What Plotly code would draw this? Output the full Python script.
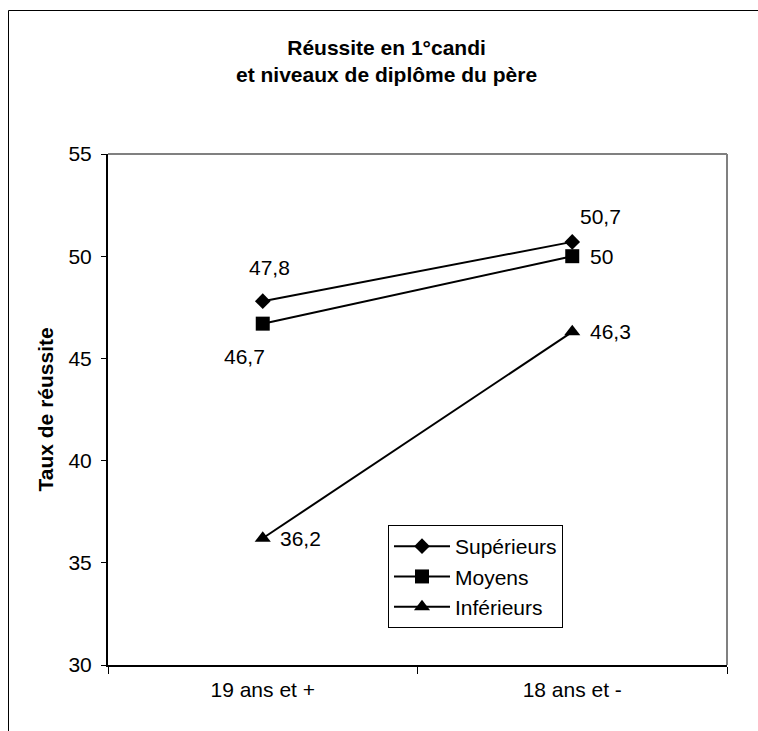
import plotly.graph_objects as go

# Age groups on the x axis
categories = ["19 ans et +", "18 ans et -"]

# Success rate by father's diploma level
superieurs = [47.8, 50.7]
moyens = [46.7, 50.0]
inferieurs = [36.2, 46.3]

series_names = ["Supérieurs", "Moyens", "Inférieurs"]
y_ticks = [30, 35, 40, 45, 50, 55]

FONT = "Liberation Sans, Arial, sans-serif"
W, H = 758, 731
L, R, T, B = 108, 31, 154, 66
PW, PH = W - L - R, H - T - B


def px_x(p):
    return (p - L) / PW


def px_y(p):
    return (T + PH - p) / PH


def fmt(v):
    s = f"{v:.1f}".replace(".", ",")
    return s[:-2] if s.endswith(",0") else s


fig = go.Figure()
symbols = ["diamond", "square", "triangle-up"]
sizes = [12, 14, 14]
for name, vals, sym, sz in zip(series_names, [superieurs, moyens, inferieurs], symbols, sizes):
    fig.add_trace(go.Scatter(
        x=categories, y=vals, name=name, mode="lines+markers",
        line=dict(color="black", width=2),
        marker=dict(symbol=sym, size=sz, color="black", line=dict(width=0)),
    ))

# Value labels with per-point offsets (pixels)
offsets = {
    "Supérieurs": [(7, -34), (28, -25)],
    "Moyens": [(-18, 33), (29, 0)],
    "Inférieurs": [(38, 0), (38, 0)],
}
annotations = []
for name, vals in zip(series_names, [superieurs, moyens, inferieurs]):
    for cat, v, (dx, dy) in zip(categories, vals, offsets[name]):
        annotations.append(dict(
            x=cat, y=v, xref="x", yref="y", text=fmt(v), showarrow=False,
            xshift=dx, yshift=-dy, font=dict(family=FONT, size=21, color="black"),
        ))

# Title
annotations.append(dict(
    x=px_x(386), y=px_y(61), xref="paper", yref="paper", showarrow=False,
    text="<b>Réussite en 1°candi<br>et niveaux de diplôme du père</b>",
    font=dict(family=FONT, size=21, color="black"), xanchor="center", yanchor="middle",
))

# Y axis title
annotations.append(dict(
    x=px_x(45), y=0.5, xref="paper", yref="paper", showarrow=False,
    text="<b>Taux de réussite</b>", textangle=-90,
    font=dict(family=FONT, size=21, color="black"), xanchor="center", yanchor="middle",
))

shapes = [
    # chart area border
    dict(type="rect", xref="paper", yref="paper",
         x0=px_x(8.5), x1=px_x(W + 5),
         y0=px_y(H + 5), y1=px_y(10.5),
         line=dict(color="black", width=1), layer="below"),
    # grey plot-area frame (top and right)
    dict(type="line", xref="paper", yref="paper", x0=0, x1=1, y0=1, y1=1,
         line=dict(color="#808080", width=2)),
    dict(type="line", xref="paper", yref="paper", x0=1, x1=1, y0=0, y1=1,
         line=dict(color="#808080", width=2)),
]

fig.update_layout(
    width=W, height=H,
    margin=dict(l=L, r=R, t=T, b=B),
    paper_bgcolor="white", plot_bgcolor="white",
    font=dict(family=FONT, size=21, color="black"),
    showlegend=True,
    legend=dict(
        x=px_x(388), y=px_y(525), xanchor="left", yanchor="top",
        bordercolor="black", borderwidth=1, bgcolor="white",
        font=dict(family=FONT, size=21, color="black"),
        itemwidth=56, tracegroupgap=0,
    ),
    xaxis=dict(
        type="category", range=[-0.5, 1.5], tickson="boundaries",
        ticks="outside", ticklen=7, tickcolor="black", tickwidth=1,
        showline=True, linecolor="black", linewidth=2, showgrid=False,
        zeroline=False, tickfont=dict(family=FONT, size=21),
        ticklabelstandoff=5,
    ),
    yaxis=dict(
        range=[30, 55], tickvals=y_ticks, ticktext=[str(t) for t in y_ticks],
        ticks="outside", ticklen=5, tickcolor="black", tickwidth=1,
        showline=True, linecolor="black", linewidth=2, showgrid=False,
        zeroline=False, tickfont=dict(family=FONT, size=21),
        ticklabelstandoff=5,
    ),
    annotations=annotations,
    shapes=shapes,
)

fig.write_html("out.html")
